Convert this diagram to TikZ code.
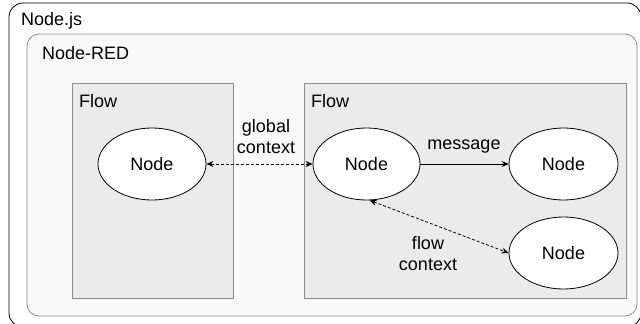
\documentclass[tikz,border=0pt]{standalone}
\usepackage{fontspec}
\setmainfont{Liberation Sans}
\usetikzlibrary{arrows.meta,shapes.geometric}
\definecolor{redbg}{HTML}{F9F9F9}
\definecolor{flowbg}{HTML}{EBEBEB}
\definecolor{boxline}{HTML}{8C8C8C}
\begin{document}
\begin{tikzpicture}[x=1pt,y=-1pt,
	font=\fontsize{18}{21}\selectfont,
	nodeell/.style={ellipse,draw,thick,fill=white,minimum width=108pt,minimum height=72pt,inner sep=0pt},
	flowbox/.style={draw=boxline,thick,fill=flowbg},
	lbl/.style={anchor=base west,inner sep=0pt},
	ctx/.style={thick,densely dashed,{Stealth[length=7pt,width=6pt]}-{Stealth[length=7pt,width=6pt]}},
	msg/.style={thick,-{Stealth[length=7pt,width=6pt]}}]
	\useasboundingbox (0,0) rectangle (640,324);
	% containers
	\draw[thick,fill=white,rounded corners=14pt] (9,3) rectangle (641,327);
	\node[lbl] (nodejs) at (21,25) {Node.js};
	\draw[boxline,thick,fill=redbg,rounded corners=12pt] (27,34) rectangle (637,316);
	\node[lbl] (nodered) at (42,59) {Node-RED};
	\draw[flowbox] (72,83) rectangle (233,298);
	\node[lbl] (flowa) at (79,107) {Flow};
	\draw[flowbox] (304,83) rectangle (626,298);
	\node[lbl] (flowb) at (311,107) {Flow};
	% nodes
	\node[nodeell] (na) at (152,164) {Node};
	\node[nodeell,minimum width=107pt] (nb) at (366.5,164) {Node};
	\node[nodeell,minimum width=109pt] (nc) at (563.5,164) {Node};
	\node[nodeell,minimum width=109pt] (nd) at (563.5,253) {Node};
	% connectors
	\draw[ctx] (na) -- (nb);
	\node[align=center,inner sep=0pt] (glob) at (266,137) {global\\context};
	\draw[msg] (nb) -- (nc);
	\node[inner sep=0pt] (mesg) at (464,147) {message};
	\draw[ctx] (nb.-85) -- (nd.west);
	\node[align=center,inner sep=0pt] (flowctx) at (428,254) {flow\\context};
\end{tikzpicture}
\end{document}
